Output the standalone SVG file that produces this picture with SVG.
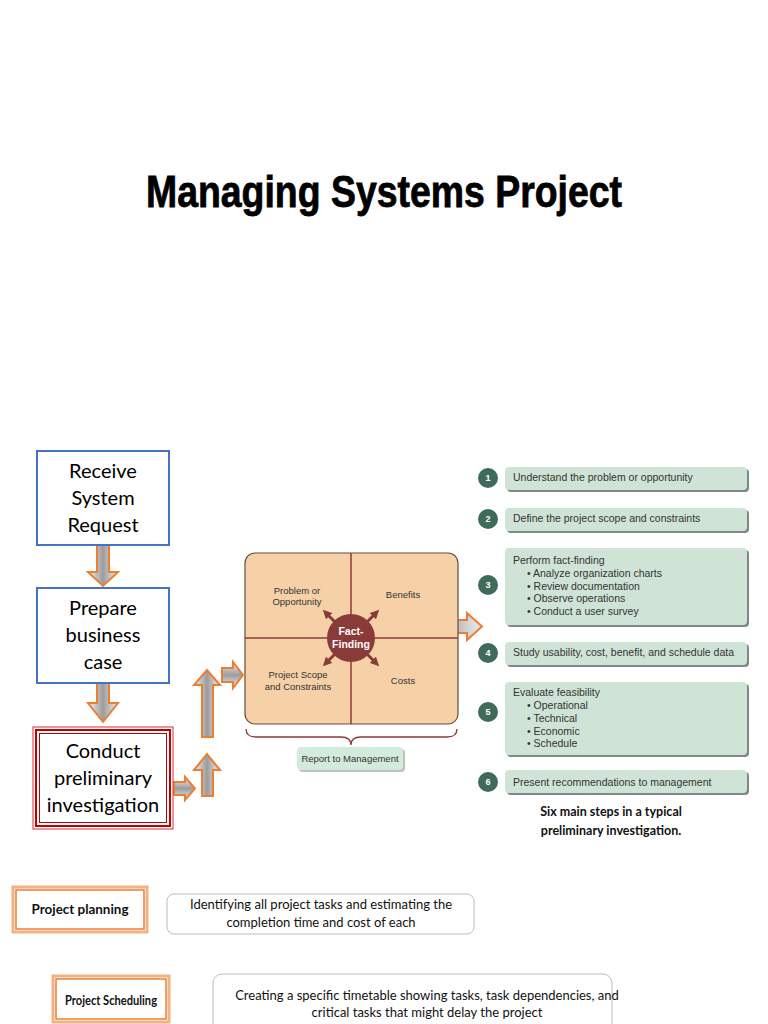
<svg xmlns="http://www.w3.org/2000/svg" width="768" height="1024" viewBox="0 0 768 1024">
<style>
.bx{font-family:Lato,"Open Sans","DejaVu Sans",sans-serif;font-size:20px;fill:#000;text-anchor:middle}
.blue{fill:#fff;stroke:#4472C4;stroke-width:2}
.arr{stroke:#ED7D31;stroke-width:2;stroke-linejoin:miter}
.lab{font-family:"Liberation Sans",Arial,sans-serif;font-size:9.5px;fill:#333;text-anchor:middle}
.st{font-family:"Liberation Sans",Arial,sans-serif;font-size:10.5px;fill:#333}
.stbox{fill:#CFE3D6}
.shd{fill:#7d8a83}
.num{fill:#3F6B5B}
.nt{font-family:"Liberation Sans",Arial,sans-serif;font-size:9px;font-weight:bold;fill:#fff;text-anchor:middle}
.cap{font-family:Lato,"Open Sans",sans-serif;font-size:12.5px;font-weight:bold;fill:#111;text-anchor:middle}
.pb{font-family:Lato,"Open Sans",sans-serif;font-size:12.5px;font-weight:bold;fill:#111;text-anchor:middle}
.desc{font-family:Lato,"Open Sans",sans-serif;font-size:13px;fill:#111;text-anchor:middle}
.mar{stroke:#8B3A3A}
</style>
<defs>
<linearGradient id="gv" x1="0" y1="0" x2="1" y2="0">
<stop offset="0" stop-color="#f2f2f2"/><stop offset="0.5" stop-color="#9c9c9c"/><stop offset="1" stop-color="#f2f2f2"/>
</linearGradient>
<linearGradient id="gh" x1="0" y1="0" x2="0" y2="1">
<stop offset="0" stop-color="#f2f2f2"/><stop offset="0.5" stop-color="#9c9c9c"/><stop offset="1" stop-color="#f2f2f2"/>
</linearGradient>
<linearGradient id="gr" x1="0" y1="0" x2="1" y2="0">
<stop offset="0" stop-color="#9c9c9c"/><stop offset="1" stop-color="#eeeeee"/>
</linearGradient>
<marker id="mh" viewBox="0 0 10 10" refX="5" refY="5" markerWidth="3" markerHeight="3" orient="auto">
<path d="M0,0 L10,5 L0,10 z" fill="#8B3A3A"/>
</marker>
</defs>

<text x="384" y="207" text-anchor="middle" font-family="'Liberation Sans',Arial,sans-serif" font-weight="bold" font-size="44" textLength="476" lengthAdjust="spacingAndGlyphs" fill="#000" stroke="#000" stroke-width="0.8">Managing Systems Project</text>

<g id="connectors">
<polygon class="arr" fill="url(#gv)" points="97,545 109,545 109,572 118,572 103,586 88,572 97,572"/>
<polygon class="arr" fill="url(#gv)" points="97,683 109,683 109,703 118,703 103,722 88,703 97,703"/>
<polygon class="arr" fill="url(#gh)" points="174,782 185,782 185,777 195,788.5 185,800 185,795 174,795"/>
<polygon class="arr" fill="url(#gv)" points="202,796 202,770 194,770 207,754 220,770 213,770 213,796"/>
<polygon class="arr" fill="url(#gv)" points="202,737 202,685 194,685 207,670 220,685 213,685 213,737"/>
<polygon class="arr" fill="url(#gh)" points="222,668 233,668 233,662 243,675 233,688 233,682 222,682"/>
<polygon class="arr" fill="url(#gr)" points="441,620 467,620 467,613 482,626.5 467,640 467,633 441,633"/>
</g>

<g id="receive">
<rect class="blue" x="37" y="451" width="132" height="94"/>
<text class="bx" x="103" y="478">Receive</text>
<text class="bx" x="103" y="505">System</text>
<text class="bx" x="103" y="532">Request</text>
</g>
<g id="prepare">
<rect class="blue" x="37" y="588" width="132" height="95"/>
<text class="bx" x="103" y="615">Prepare</text>
<text class="bx" x="103" y="642">business</text>
<text class="bx" x="103" y="669">case</text>
</g>
<g id="conduct">
<rect x="33" y="727" width="140" height="102" fill="#fff" stroke="#D9534F" stroke-width="1.2"/>
<rect x="36" y="730" width="134" height="96" fill="none" stroke="#C00000" stroke-width="2"/>
<rect x="39.5" y="733.5" width="127" height="89" fill="none" stroke="#C00000" stroke-width="1"/>
<text class="bx" x="103" y="758">Conduct</text>
<text class="bx" x="103" y="785">preliminary</text>
<text class="bx" x="103" y="812">investigation</text>
</g>

<g id="factfinding">
<rect x="245" y="553" width="213" height="171" rx="10" fill="#F6D1A8" stroke="#6b4a40" stroke-width="1.2"/>
<line class="mar" x1="351" y1="553" x2="351" y2="724" stroke-width="1.5"/>
<line class="mar" x1="245" y1="638" x2="458" y2="638" stroke-width="1.5"/>
<line class="mar" x1="335" y1="622" x2="326" y2="613" stroke-width="3" marker-end="url(#mh)"/>
<line class="mar" x1="367" y1="622" x2="376" y2="613" stroke-width="3" marker-end="url(#mh)"/>
<line class="mar" x1="335" y1="654" x2="326" y2="663" stroke-width="3" marker-end="url(#mh)"/>
<line class="mar" x1="367" y1="654" x2="376" y2="663" stroke-width="3" marker-end="url(#mh)"/>
<circle cx="351" cy="638" r="24" fill="#8B3A3A"/>
<text x="351" y="635" text-anchor="middle" font-family="'Liberation Sans',Arial,sans-serif" font-size="10.5" font-weight="bold" fill="#fff">Fact-</text>
<text x="351" y="648" text-anchor="middle" font-family="'Liberation Sans',Arial,sans-serif" font-size="10.5" font-weight="bold" fill="#fff">Finding</text>
<text class="lab" x="297" y="594">Problem or</text>
<text class="lab" x="297" y="605">Opportunity</text>
<text class="lab" x="403" y="598">Benefits</text>
<text class="lab" x="298" y="678">Project Scope</text>
<text class="lab" x="298" y="690">and Constraints</text>
<text class="lab" x="403" y="684">Costs</text>
<path d="M246,729 Q246,737 256,737 L341,737 Q351,737 351,745 Q351,737 361,737 L447,737 Q457,737 457,729" fill="none" stroke="#8B3A3A" stroke-width="1.3"/>
</g>

<g id="report">
<rect x="299" y="749" width="106" height="23" rx="4" fill="#8a9a90" opacity="0.6"/>
<rect x="297" y="747" width="106" height="23" rx="4" fill="#D3EBDC"/>
<text class="lab" x="350" y="762">Report to Management</text>
</g>

<g id="step1">
<rect class="shd" x="507" y="469" width="242" height="23" rx="4"/>
<rect class="stbox" x="505" y="467" width="242" height="23" rx="4"/>
<circle class="num" cx="488" cy="478" r="10"/><text class="nt" x="488" y="481">1</text>
<text class="st" x="513" y="481">Understand the problem or opportunity</text>
</g>
<g id="step2">
<rect class="shd" x="507" y="510" width="242" height="23" rx="4"/>
<rect class="stbox" x="505" y="508" width="242" height="23" rx="4"/>
<circle class="num" cx="488" cy="519" r="10"/><text class="nt" x="488" y="522">2</text>
<text class="st" x="513" y="522">Define the project scope and constraints</text>
</g>
<g id="step3">
<rect class="shd" x="507" y="550" width="242" height="77" rx="4"/>
<rect class="stbox" x="505" y="548" width="242" height="77" rx="4"/>
<circle class="num" cx="488" cy="585" r="10"/><text class="nt" x="488" y="588">3</text>
<text class="st" x="513" y="564">Perform fact-finding</text>
<text class="st" x="527" y="577">• Analyze organization charts</text>
<text class="st" x="527" y="590">• Review documentation</text>
<text class="st" x="527" y="602">• Observe operations</text>
<text class="st" x="527" y="615">• Conduct a user survey</text>
</g>
<g id="step4">
<rect class="shd" x="507" y="644" width="242" height="23" rx="4"/>
<rect class="stbox" x="505" y="642" width="242" height="23" rx="4"/>
<circle class="num" cx="488" cy="653" r="10"/><text class="nt" x="488" y="656">4</text>
<text class="st" x="513" y="656">Study usability, cost, benefit, and schedule data</text>
</g>
<g id="step5">
<rect class="shd" x="507" y="684" width="242" height="73" rx="4"/>
<rect class="stbox" x="505" y="682" width="242" height="73" rx="4"/>
<circle class="num" cx="488" cy="712" r="10"/><text class="nt" x="488" y="715">5</text>
<text class="st" x="513" y="696">Evaluate feasibility</text>
<text class="st" x="527" y="709">• Operational</text>
<text class="st" x="527" y="722">• Technical</text>
<text class="st" x="527" y="735">• Economic</text>
<text class="st" x="527" y="747">• Schedule</text>
</g>
<g id="step6">
<rect class="shd" x="507" y="772" width="242" height="23" rx="4"/>
<rect class="stbox" x="505" y="770" width="242" height="23" rx="4"/>
<circle class="num" cx="488" cy="782" r="10"/><text class="nt" x="488" y="785">6</text>
<text class="st" x="513" y="786">Present recommendations to management</text>
</g>
<text class="cap" x="611" y="816">Six main steps in a typical</text>
<text class="cap" x="611" y="835">preliminary investigation.</text>

<g id="planning">
<rect x="13" y="887" width="134" height="45" fill="#fff" stroke="#F4B183" stroke-width="3"/>
<rect x="16" y="890" width="128" height="39" fill="none" stroke="#ED7D31" stroke-width="1.5"/>
<text class="pb" x="80" y="914" textLength="97" lengthAdjust="spacingAndGlyphs">Project planning</text>
</g>
<g id="planningdesc">
<rect x="167" y="894" width="307" height="40" rx="7" fill="#fff" stroke="#bdbdbd" stroke-width="1"/>
<text class="desc" x="321" y="909">Identifying all project tasks and estimating the</text>
<text class="desc" x="321" y="927">completion time and cost of each</text>
</g>
<g id="scheduling">
<rect x="53" y="976" width="116" height="46" fill="#fff" stroke="#F4B183" stroke-width="3"/>
<rect x="56" y="979" width="110" height="40" fill="none" stroke="#ED7D31" stroke-width="1.5"/>
<text class="pb" x="111" y="1005" textLength="92" lengthAdjust="spacingAndGlyphs">Project Scheduling</text>
</g>
<g id="schedulingdesc">
<rect x="213" y="974" width="399" height="60" rx="9" fill="#fff" stroke="#bdbdbd" stroke-width="1"/>
<text class="desc" x="427" y="1000">Creating a specific timetable showing tasks, task dependencies, and</text>
<text class="desc" x="427" y="1017">critical tasks that might delay the project</text>
</g>
</svg>
